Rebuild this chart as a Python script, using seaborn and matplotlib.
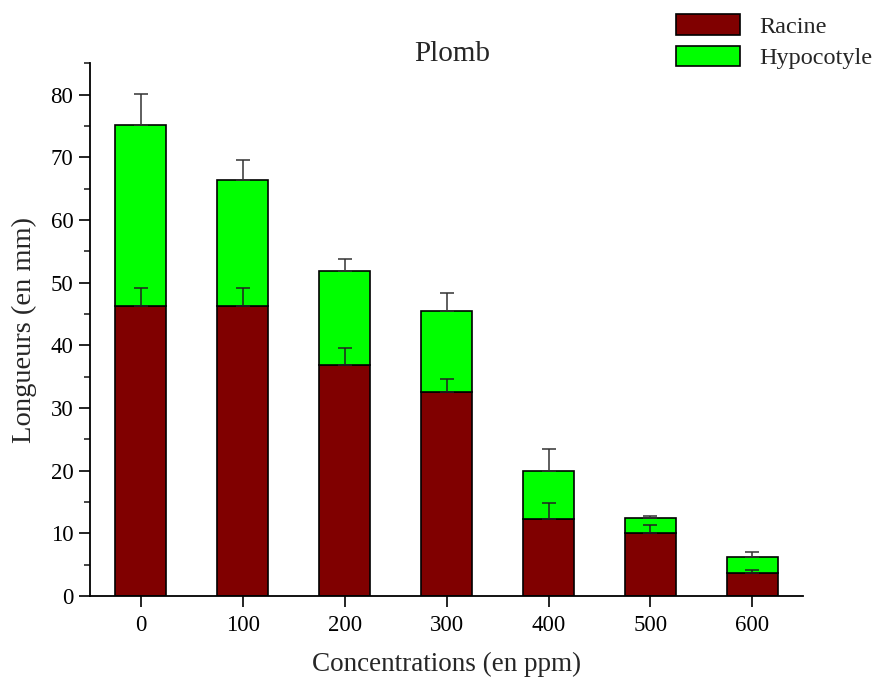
import matplotlib
matplotlib.use("Agg")
import matplotlib.pyplot as plt
import seaborn as sns
import numpy as np
import pandas as pd
from matplotlib.patches import Patch
from matplotlib.ticker import MultipleLocator

concentrations = ["0", "100", "200", "300", "400", "500", "600"]
racine = [46.3, 46.3, 36.85, 32.6, 12.3, 10.1, 3.7]
racine_err = [2.8, 2.8, 2.75, 2.1, 2.6, 1.3, 0.4]
hypocotyle = [28.9, 20.15, 14.95, 12.9, 7.7, 2.36, 2.6]
total_err = [4.9, 3.1, 2.0, 2.8, 3.4, 0.3, 0.75]

sns.set_theme(style="ticks")
plt.rcParams["font.family"] = ["Liberation Serif", "DejaVu Serif"]

df = pd.DataFrame({"conc": concentrations, "racine": racine, "hypocotyle": hypocotyle})
total = [r + h for r, h in zip(racine, hypocotyle)]

fig = plt.figure(figsize=(8.79, 6.79), dpi=100)
ax = fig.add_axes([0.1024, 0.1222, 0.8115, 0.7846])

sns.barplot(data=df, x="conc", y="racine", color="#800000", saturation=1,
            width=0.5, edgecolor="black", linewidth=1.2, ax=ax, errorbar=None)
sns.barplot(data=df, x="conc", y="hypocotyle", color="#00FF00", saturation=1,
            width=0.5, edgecolor="black", linewidth=1.2, ax=ax, errorbar=None,
            bottom=racine)

xpos = np.arange(len(concentrations))
ax.errorbar(xpos, total, yerr=[np.zeros(len(total)), total_err], fmt="none",
            ecolor="#333333", elinewidth=1.1, capsize=5, capthick=1.1, zorder=5)
ax.errorbar(xpos, racine, yerr=[np.zeros(len(racine)), racine_err], fmt="none",
            ecolor="#222222", elinewidth=1.1, capsize=5, capthick=1.1, zorder=5)

ax.set_xlim(-0.5, 6.5)
ax.set_ylim(0, 85)
ax.yaxis.set_major_locator(MultipleLocator(10))
ax.yaxis.set_minor_locator(MultipleLocator(5))
ax.set_yticks(np.arange(0, 81, 10))
ax.tick_params(axis="both", which="major", direction="out", length=8, width=1.2,
               labelsize=16.5, colors="black", pad=4)
ax.tick_params(axis="x", which="major", pad=6)
ax.tick_params(axis="y", which="minor", direction="out", length=4.5, width=1.2)
for s in ["top", "right"]:
    ax.spines[s].set_visible(False)
for s in ["left", "bottom"]:
    ax.spines[s].set_linewidth(1.3)
    ax.spines[s].set_color("black")

ax.set_xlabel("Concentrations (en ppm)", fontsize=19.5, labelpad=11)
ax.set_ylabel("Longueurs (en mm)", fontsize=20.5, labelpad=10)
fig.text(0.514, 0.921, "Plomb", fontsize=21, ha="center", va="center")

handles = [Patch(facecolor="#800000", edgecolor="black", linewidth=1.2, label="Racine"),
           Patch(facecolor="#00FF00", edgecolor="black", linewidth=1.2, label="Hypocotyle")]
fig.legend(handles=handles, loc="upper left", bbox_to_anchor=(0.7585, 0.993),
           frameon=False, fontsize=17.5, handlelength=2.6, handleheight=0.92,
           handletextpad=0.8, labelspacing=0.32, borderaxespad=0)

fig.savefig("out.png", dpi=100)
